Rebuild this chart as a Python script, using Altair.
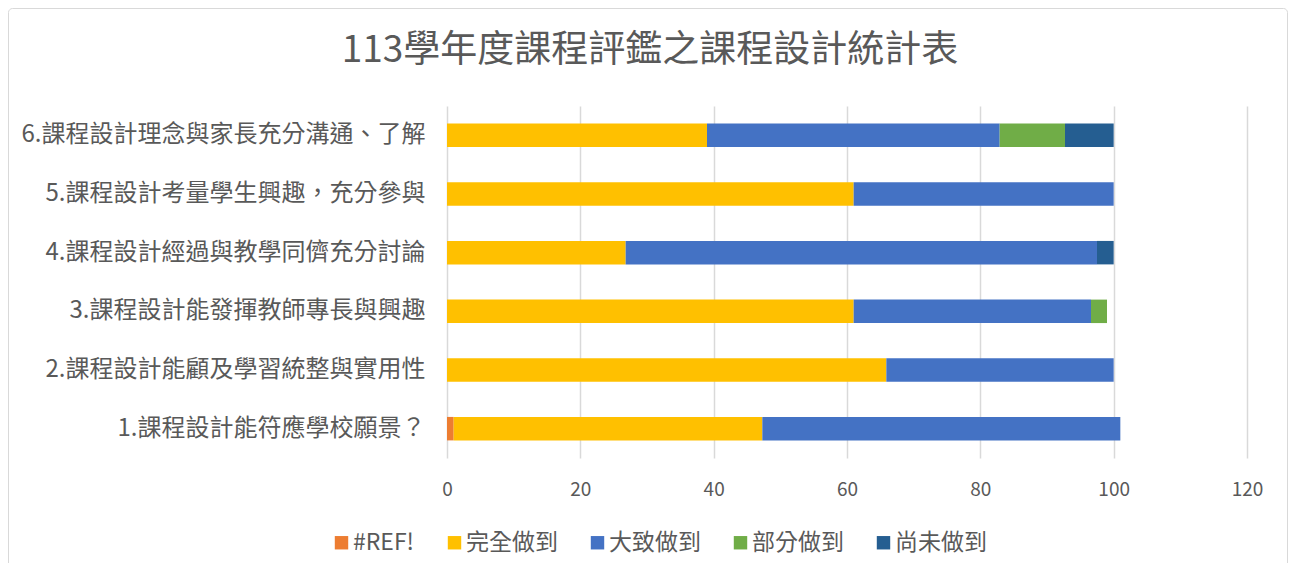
import altair as alt
import pandas as pd

categories = [
    "1.課程設計能符應學校願景？",
    "2.課程設計能顧及學習統整與實用性",
    "3.課程設計能發揮教師專長與興趣",
    "4.課程設計經過與教學同儕充分討論",
    "5.課程設計考量學生興趣，充分參與",
    "6.課程設計理念與家長充分溝通、了解",
]
series = ["#REF!", "完全做到", "大致做到", "部分做到", "尚未做到"]
colors = ["#ED7D31", "#FFC000", "#4472C4", "#70AD47", "#255E91"]

ref_vals = [1.0, 0, 0, 0, 0, 0]
full_vals = [46.3, 65.9, 61.0, 26.8, 61.0, 39.0]
mostly_vals = [53.7, 34.1, 35.6, 70.7, 39.0, 43.9]
partly_vals = [0, 0, 2.4, 0, 0, 9.8]
none_vals = [0, 0, 0, 2.5, 0, 7.3]

x_ticks = [0, 20, 40, 60, 80, 100, 120]

all_vals = [ref_vals, full_vals, mostly_vals, partly_vals, none_vals]
rows = []
for si, (s, vals) in enumerate(zip(series, all_vals)):
    for c, v in zip(categories, vals):
        if v > 0:
            rows.append({"題目": c, "項目": s, "值": v, "序": si})
df = pd.DataFrame(rows)

font = "Noto Sans CJK TC"
gray = "#595959"

bars = alt.Chart(df).mark_bar().encode(
    y=alt.Y(
        "題目:N",
        sort=list(reversed(categories)),
        title=None,
        scale=alt.Scale(paddingInner=0.6, paddingOuter=0.3),
        axis=alt.Axis(
            ticks=False, domain=False, labelFontSize=24, labelColor=gray,
            labelFont=font, labelPadding=22, labelLimit=0,
        ),
    ),
    x=alt.X(
        "sum(值):Q",
        title=None,
        stack="zero",
        scale=alt.Scale(domain=[0, 120], nice=False),
        axis=alt.Axis(
            values=x_ticks, ticks=False, domain=False, grid=True,
            gridColor="#D9D9D9", gridWidth=1.5, labelFontSize=19,
            labelColor=gray, labelFont=font, labelPadding=22,
            labelFlush=False,
        ),
    ),
    color=alt.Color(
        "項目:N",
        sort=series,
        scale=alt.Scale(domain=series, range=colors),
        legend=alt.Legend(
            title=None, orient="none", legendX=-117, legendY=425,
            direction="horizontal", columns=5, symbolType="square",
            symbolSize=180, symbolStrokeWidth=0, labelFontSize=23,
            labelColor=gray, labelFont=font, columnPadding=28,
            labelOffset=0,
        ),
    ),
    order=alt.Order("序:Q", sort="ascending"),
)

border = alt.Chart(pd.DataFrame({"k": [0]})).mark_rect(
    fill=None, stroke="#D9D9D9", strokeWidth=1, cornerRadius=4
).encode(
    x=alt.value(-438.5), x2=alt.value(840.5),
    y=alt.value(-97.5), y2=alt.value(464.5),
)

chart = alt.layer(border, bars).properties(
    width=800,
    height=352,
    title=alt.TitleParams(
        "113學年度課程評鑑之課程設計統計表",
        fontSize=37, font=font, color=gray, fontWeight="normal",
        anchor="middle", dx=-197, offset=-61.5,
    ),
    autosize=alt.AutoSizeParams(type="none"),
    padding={"left": 439, "top": 98, "right": 41, "bottom": 105},
).configure_view(stroke=None)

chart.save("out.html", embed_options={"renderer": "svg", "actions": False})
